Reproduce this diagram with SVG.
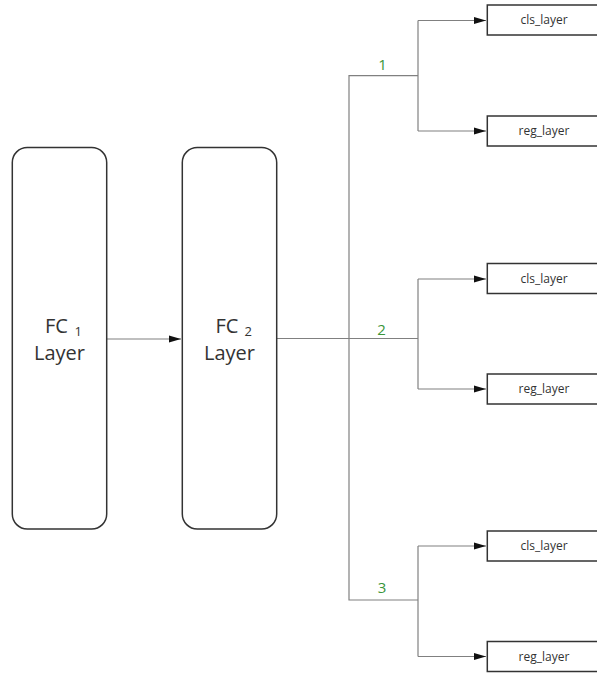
<svg xmlns="http://www.w3.org/2000/svg" width="597" height="673" viewBox="0 0 597 673">
<style>
.big{fill:#fff;stroke:#333;stroke-width:1.5}
.small{fill:#fff;stroke:#333;stroke-width:1.5}
.conn{fill:none;stroke:#808080;stroke-width:1.2}
.t{font-family:"Open Sans","Liberation Sans",sans-serif;fill:#333}
.bt{font-size:20px}
.sub{font-size:13px}
.st{font-size:12px;text-anchor:middle}
.num{font-family:"Open Sans","Liberation Sans",sans-serif;font-size:15px;fill:#3a963a;text-anchor:middle}
</style>
<defs>
<marker id="arr" markerWidth="13" markerHeight="9" refX="12" refY="4.5" orient="auto" markerUnits="userSpaceOnUse">
<path d="M0,1 L12,4.5 L0,8 Z" fill="#111"/>
</marker>
</defs>
<rect width="597" height="673" fill="#fff"/>
<g id="connectors">
<line class="conn" x1="107" y1="339" x2="181" y2="339" marker-end="url(#arr)"/>
<line class="conn" x1="277" y1="338.5" x2="418" y2="338.5"/>
<polyline class="conn" points="418,75.7 349,75.7 349,600 418,600"/>
<line class="conn" x1="418" y1="20.5" x2="486" y2="20.5" marker-end="url(#arr)"/>
<line class="conn" x1="418" y1="131" x2="486" y2="131" marker-end="url(#arr)"/>
<line class="conn" x1="418" y1="20.5" x2="418" y2="131"/>
<line class="conn" x1="418" y1="279" x2="486" y2="279" marker-end="url(#arr)"/>
<line class="conn" x1="418" y1="389" x2="486" y2="389" marker-end="url(#arr)"/>
<line class="conn" x1="418" y1="279" x2="418" y2="389"/>
<line class="conn" x1="418" y1="546" x2="486" y2="546" marker-end="url(#arr)"/>
<line class="conn" x1="418" y1="656.5" x2="486" y2="656.5" marker-end="url(#arr)"/>
<line class="conn" x1="418" y1="546" x2="418" y2="656.5"/>
<text class="num" x="382.5" y="70">1</text>
<text class="num" x="381.5" y="335">2</text>
<text class="num" x="382" y="593.3">3</text>
</g>
<g id="fc1">
<rect class="big" x="12.3" y="147.5" width="94.4" height="381.5" rx="15" ry="15"/>
<text class="t bt" x="45" y="333">FC</text>
<text class="t sub" x="74.5" y="336">1</text>
<text class="t bt" x="59.5" y="360" text-anchor="middle">Layer</text>
</g>
<g id="fc2">
<rect class="big" x="182.3" y="147.5" width="94.4" height="381.5" rx="15" ry="15"/>
<text class="t bt" x="215.5" y="333">FC</text>
<text class="t sub" x="244.5" y="336">2</text>
<text class="t bt" x="229.5" y="360" text-anchor="middle">Layer</text>
</g>
<g id="cls1">
<rect class="small" x="487.3" y="5" width="113" height="30"/>
<text class="t st" x="544" y="24">cls_layer</text>
</g>
<g id="reg1">
<rect class="small" x="487.3" y="116" width="113" height="30"/>
<text class="t st" x="544" y="135">reg_layer</text>
</g>
<g id="cls2">
<rect class="small" x="487.3" y="263.5" width="113" height="30"/>
<text class="t st" x="544" y="282.5">cls_layer</text>
</g>
<g id="reg2">
<rect class="small" x="487.3" y="374" width="113" height="30"/>
<text class="t st" x="544" y="393">reg_layer</text>
</g>
<g id="cls3">
<rect class="small" x="487.3" y="531" width="113" height="30"/>
<text class="t st" x="544" y="550">cls_layer</text>
</g>
<g id="reg3">
<rect class="small" x="487.3" y="641.5" width="113" height="30"/>
<text class="t st" x="544" y="660.5">reg_layer</text>
</g>
</svg>
